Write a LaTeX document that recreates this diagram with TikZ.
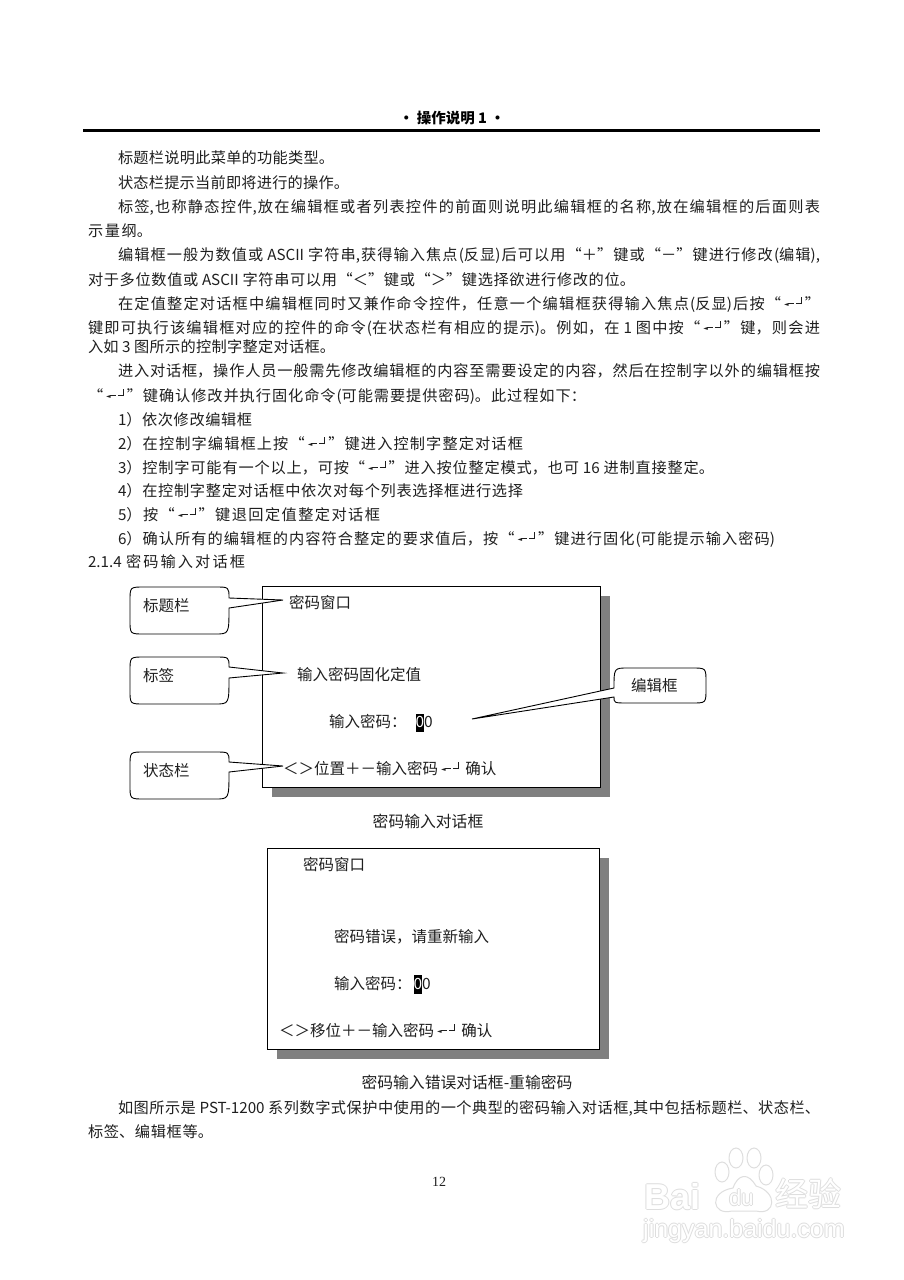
\documentclass[tikz,border=0pt]{standalone}
\usepackage{fontspec}
\setmainfont{Noto Sans CJK SC}
\newfontfamily\serifnum{Liberation Serif}
\newfontfamily\symf{DejaVu Sans}
\newfontfamily\wmfont{Liberation Sans}[BoldFont={Liberation Sans Bold}]
\definecolor{ink}{gray}{0.12}
\definecolor{shade}{gray}{0.5}
\definecolor{wmedge}{gray}{0.87}
\XeTeXlinebreaklocale "zh"
\XeTeXlinebreakskip=0pt plus 4pt minus 0.8pt
\newcommand{\FC}{\symbol{"FF0C}}
\newcommand{\FP}{\symbol{"FF0B}}
\newcommand{\FM}{\symbol{"FF0D}}
\newcommand{\FL}{\symbol{"FF1C}}
\newcommand{\FR}{\symbol{"FF1E}}
\newcommand{\FK}{\symbol{"FF1A}}
\newcommand{\FE}{\symbol{"FF09}}
\newcommand{\entkey}{\mbox{\kern3pt\raisebox{3pt}{\fontsize{6}{6}\symf ◄}\kern-1pt\rule[5pt]{6pt}{0.9pt}\kern2pt\rule[5pt]{6pt}{0.9pt}\kern-0.9pt\rule[5pt]{0.9pt}{7pt}\kern3pt}}
\newcommand{\bodyline}[5]{\node[bodytext] (#1) at (#2,#3) {\parbox[b]{#4pt}{\tolerance=9999\parfillskip=0pt\hbadness=10000\noindent #5}};}
\newcommand{\calloutR}[8]{\draw[calloutshape]
  ({#1+14},#2) -- ({#3-14},#2) .. controls (#3,#2) .. (#3,#5)
  -- (#7,#8) -- (#3,#6) .. controls (#3,#4) .. ({#3-14},#4) -- ({#1+14},#4)
  .. controls (#1,#4) .. (#1,{#4-14}) -- (#1,{#2+14})
  .. controls (#1,#2) .. ({#1+14},#2) -- cycle;}
\newcommand{\wmword}[5]{%
  \node[wm,text=wmedge,#2] at (#3+1,#4) {#5};
  \node[wm,text=wmedge,#2] at (#3-1,#4) {#5};
  \node[wm,text=wmedge,#2] at (#3,#4+1) {#5};
  \node[wm,text=wmedge,#2] at (#3,#4-1) {#5};
  \node[wm,text=white,#2] (#1) at (#3,#4) {#5};}
\tikzset{
  bodytext/.style={anchor=base west,inner sep=0pt,outer sep=0pt,text=ink,font=\fontsize{15.2}{17}\selectfont},
  dlgtext/.style={anchor=base west,inner sep=0pt,text=ink,font=\fontsize{15.5}{17}\selectfont},
  capt/.style={anchor=base,inner sep=0pt,text=ink,font=\fontsize{15.8}{17}\selectfont},
  dlgbox/.style={draw=black,line width=1pt,fill=white},
  dropshadow/.style={fill=shade,draw=none},
  calloutshape/.style={draw=black,line width=0.9pt,fill=white},
  paw/.style={draw=wmedge,line width=1pt,fill=white},
  wm/.style={inner sep=0pt,anchor=base west}
}
\begin{document}
\begin{tikzpicture}[x=1pt,y=-1pt]
\useasboundingbox[fill=white] (0,0) rectangle (904,1280);
% header
\node[anchor=base,inner sep=0pt,text=black,font=\bfseries\fontsize{14.5}{16}\selectfont] (head) at (452,123) {• 操作说明 1 •};
\draw[line width=2.6pt,black] (83,130.5) -- (820,130.5);
% body
\bodyline{l1}{118}{163}{216}{标题栏说明此菜单的功能类型。}
\bodyline{l2}{118}{188}{231}{状态栏提示当前即将进行的操作。}
\bodyline{l3}{118}{212}{702}{标签,也称静态控件,放在编辑框或者列表控件的前面则说明此编辑框的名称,放在编辑框的后面则表}
\bodyline{l4}{88}{236}{64}{示量纲。}
\bodyline{l5}{118}{260}{702}{编辑框一般为数值或 ASCII 字符串,获得输入焦点(反显)后可以用“\FP”键或“\FM”键进行修改(编辑),}
\bodyline{l6}{88}{285}{547}{对于多位数值或 ASCII 字符串可以用“\FL”键或“\FR”键选择欲进行修改的位。}
\bodyline{l7}{118}{309}{702}{在定值整定对话框中编辑框同时又兼作命令控件\FC 任意一个编辑框获得输入焦点(反显)后按“\entkey”}
\bodyline{l8}{88}{333}{732}{键即可执行该编辑框对应的控件的命令(在状态栏有相应的提示)。例如\FC 在 1 图中按“\entkey”键\FC 则会进}
\bodyline{l9}{88}{352}{247}{入如 3 图所示的控制字整定对话框。}
\bodyline{l10}{118}{376}{702}{进入对话框\FC 操作人员一般需先修改编辑框的内容至需要设定的内容\FC 然后在控制字以外的编辑框按}
\bodyline{l11}{88}{401}{498}{“\entkey”键确认修改并执行固化命令(可能需要提供密码)。此过程如下\FK}
\bodyline{s1}{118}{425}{134}{1\FE 依次修改编辑框}
\bodyline{s2}{118}{449}{405}{2\FE 在控制字编辑框上按“\entkey”键进入控制字整定对话框}
\bodyline{s3}{118}{473}{596}{3\FE 控制字可能有一个以上\FC 可按“\entkey”进入按位整定模式\FC 也可 16 进制直接整定。}
\bodyline{s4}{118}{496}{405}{4\FE 在控制字整定对话框中依次对每个列表选择框进行选择}
\bodyline{s5}{118}{520}{262}{5\FE 按“\entkey”键退回定值整定对话框}
\bodyline{s6}{118}{544}{657}{6\FE 确认所有的编辑框的内容符合整定的要求值后\FC 按“\entkey”键进行固化(可能提示输入密码)}
\bodyline{sec}{88}{567}{157}{2.1.4 密码输入对话框}
% first dialog
\fill[dropshadow] (272,596) rectangle (610,797);
\draw[dlgbox] (262,586) rectangle (600,787);
\calloutR{130}{587}{229}{634}{598}{608}{283}{600}
\calloutR{130}{657}{229}{704}{667}{678}{283}{673}
\calloutR{130}{752}{229}{799}{762}{772}{283}{766}
\draw[calloutshape] (472,719) -- (614,688) .. controls (614,668) .. (628,668) -- (692,668) .. controls (706,668) .. (706,682) -- (706,689) .. controls (706,703) .. (692,703) -- (628,703) .. controls (614,703) .. (614,697) -- cycle;
\node[dlgtext] (c1) at (143,611) {标题栏};
\node[dlgtext] (c2) at (143,681) {标签};
\node[dlgtext] (c3) at (143,776) {状态栏};
\node[dlgtext] (c4) at (631,691) {编辑框};
\node[dlgtext] (t1) at (289,608) {密码窗口};
\node[dlgtext] (t2) at (297,680) {输入密码固化定值};
\node[dlgtext] (t3) at (329,727) {输入密码\FK};
\fill[black] (416,714) rectangle (424,732);
\node[dlgtext,anchor=base,text=white] (z1) at (420,727) {0};
\node[dlgtext] (z2) at (424,727) {0};
\node[dlgtext] (t4) at (283,774) {\FL\FR 位置\FP\FM 输入密码\entkey\ 确认};
\node[capt] (cap1) at (428,827) {密码输入对话框};
% second dialog
\fill[dropshadow] (277,858) rectangle (609,1059);
\draw[dlgbox] (267,848) rectangle (599,1049);
\node[dlgtext] (u1) at (303,870) {密码窗口};
\node[dlgtext] (u2) at (334,942) {密码错误\FC 请重新输入};
\node[dlgtext] (u3) at (334,989) {输入密码\FK};
\fill[black] (414,975) rectangle (422,994);
\node[dlgtext,anchor=base,text=white] (v1) at (418,989) {0};
\node[dlgtext] (v2) at (422,989) {0};
\node[dlgtext] (u4) at (279,1036) {\FL\FR 移位\FP\FM 输入密码\entkey\ 确认};
\node[capt] (cap2) at (467,1088) {密码输入错误对话框-重输密码};
% closing text
\bodyline{e1}{118}{1113}{702}{如图所示是 PST-1200 系列数字式保护中使用的一个典型的密码输入对话框,其中包括标题栏、状态栏、}
\bodyline{e2}{88}{1137}{125}{标签、编辑框等。}
\node[anchor=base,inner sep=0pt,text=ink,font=\serifnum\fontsize{14}{16}\selectfont] (page) at (439,1186) {12};
% watermark
\draw[paw] (722,1172) ellipse (7 and 10);
\draw[paw] (736,1158) ellipse (7 and 10);
\draw[paw] (754,1158) ellipse (7 and 10);
\draw[paw] (766,1175) ellipse (7 and 10);
\draw[paw] (733,1188) .. controls (708,1192) and (712,1216) .. (732,1211) -- (756,1211) .. controls (776,1216) and (778,1192) .. (756,1186) .. controls (748,1172) and (738,1174) .. (733,1188) -- cycle;
\wmword{wm1}{font=\wmfont\bfseries\fontsize{36}{36}\selectfont}{644}{1209}{Bai}
\wmword{wm2}{font=\wmfont\fontsize{22}{22}\selectfont}{729}{1205}{du}
\wmword{wm3}{font=\fontsize{33}{33}\selectfont}{775}{1206}{经验}
\wmword{wm4}{font=\wmfont\fontsize{25}{25}\selectfont}{643}{1237}{jingyan.baidu.com}
\end{tikzpicture}
\end{document}
